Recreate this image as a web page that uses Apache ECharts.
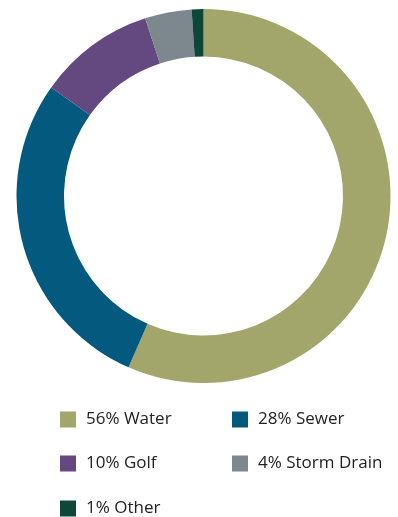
<!DOCTYPE html>
<html>
<head>
<meta charset="utf-8">
<script src="https://cdn.jsdelivr.net/npm/echarts@6/dist/echarts.min.js"></script>
<style>
  html, body { margin: 0; padding: 0; background: #ffffff; }
  #chart { width: 398px; height: 517px; }
</style>
</head>
<body>
<div id="chart"></div>
<script>
// Share of total by utility category (percent)
const categories = ['Water', 'Sewer', 'Golf', 'Storm Drain', 'Other'];
const shares = [56, 28, 10, 4, 1];
const colors = ['#a2a66b', '#04597f', '#63497f', '#7c878e', '#0c4738'];

// Legend placement: two columns, three rows (item centre y)
const legendSlots = [
  { left: 60, cy: 419 },   // Water
  { left: 232, cy: 419 },  // Sewer
  { left: 60, cy: 463 },   // Golf
  { left: 232, cy: 463 },  // Storm Drain
  { left: 60, cy: 508 }    // Other
];

const shareByName = {};
categories.forEach((c, i) => { shareByName[c] = shares[i]; });

const legends = categories.map((c, i) => ({
  data: [c],
  orient: 'horizontal',
  left: legendSlots[i].left,
  top: legendSlots[i].cy - 8,
  padding: 0,
  itemWidth: 16, itemHeight: 16,
  icon: 'rect',
  selectedMode: false,
  formatter: name => shareByName[name] + '% ' + name,
  textStyle: {
    fontFamily: '"Open Sans", sans-serif',
    fontSize: 17,
    lineHeight: 16,
    color: '#222222',
    padding: [0, 0, 0, 5]
  }
}));

const chart = echarts.init(document.getElementById('chart'), null, { renderer: 'canvas' });
chart.setOption({
  animation: false,
  color: colors,
  legend: legends,
  series: [{
    type: 'pie',
    center: [203.5, 196],
    radius: [139.5, 187],
    startAngle: 90,
    clockwise: true,
    label: { show: false },
    labelLine: { show: false },
    emphasis: { disabled: true },
    itemStyle: { borderWidth: 0 },
    data: categories.map((c, i) => ({ name: c, value: shares[i] }))
  }]
});
</script>
</body>
</html>
